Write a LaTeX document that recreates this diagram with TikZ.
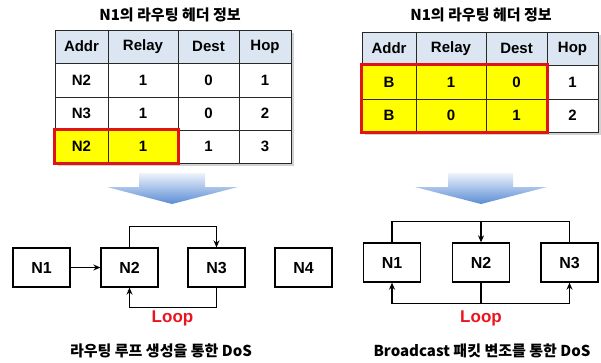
\documentclass[tikz,border=0pt]{standalone}
\usepackage{fontspec}
\setmainfont{Liberation Sans}
\newfontfamily\kr{Noto Sans CJK KR}
\usetikzlibrary{arrows.meta,calc}
\definecolor{hdr}{RGB}{220,230,242}
\definecolor{hl}{RGB}{255,255,0}
\definecolor{redb}{RGB}{225,20,20}
\definecolor{lpred}{RGB}{235,20,30}
\definecolor{gridc}{RGB}{40,40,40}
\tikzset{
  cell/.style={draw=gridc, line width=0.9pt, inner sep=0pt, font=\fontsize{15}{17}\selectfont\bfseries},
  hcell/.style={cell, fill=hdr},
  ycell/.style={cell, fill=hl},
  wcell/.style={cell, fill=white},
  redbox/.style={draw=redb, line width=2.6pt},
  netnode/.style={draw=black, line width=1.3pt, fill=white, minimum width=57pt, minimum height=39pt, inner sep=0pt, font=\fontsize{16}{18}\selectfont\bfseries},
  link/.style={line width=1.3pt},
  arr/.style={link, -{Stealth[length=7pt,width=6pt]}},
  title/.style={font=\kr\fontsize{15}{17}\selectfont\bfseries},
  looplbl/.style={text=lpred, font=\fontsize{17}{19}\selectfont\bfseries},
  bigarrow/.style={top color={rgb,255:red,238;green,243;blue,251}, bottom color={rgb,255:red,90;green,140;blue,212}, draw=none}
}
\newcommand{\tcell}[7]{% style, name, x1, x2, y1, y2, text
  \node[#1, minimum width={(#4-#3)*1pt}, minimum height={(#6-#5)*1pt}] (#2) at ({(#3+#4)/2},{(#5+#6)/2}) {#7};}
\begin{document}
\begin{tikzpicture}[x=1pt,y=-1pt]
\useasboundingbox (0,0) rectangle (601,362);
\fill[white] (0,0) rectangle (601,362);

% ---------- left table ----------
\node[title] (t1) at (170,15) {N1의 라우팅 헤더 정보};
\fill[black!18] (58,33) rectangle (294,166);
\tcell{hcell}{a11}{55}{108}{30}{63}{Addr}
\tcell{hcell}{a12}{108}{178}{30}{63}{Relay}
\tcell{hcell}{a13}{178}{239}{30}{63}{Dest}
\tcell{hcell}{a14}{239}{291}{30}{63}{Hop}
\tcell{wcell}{a21}{55}{108}{63}{97}{N2}
\tcell{wcell}{a22}{108}{178}{63}{97}{1}
\tcell{wcell}{a23}{178}{239}{63}{97}{0}
\tcell{wcell}{a24}{239}{291}{63}{97}{1}
\tcell{wcell}{a31}{55}{108}{97}{130}{N3}
\tcell{wcell}{a32}{108}{178}{97}{130}{1}
\tcell{wcell}{a33}{178}{239}{97}{130}{0}
\tcell{wcell}{a34}{239}{291}{97}{130}{2}
\tcell{ycell}{a41}{55}{108}{130}{163}{N2}
\tcell{ycell}{a42}{108}{178}{130}{163}{1}
\tcell{wcell}{a43}{178}{239}{130}{163}{1}
\tcell{wcell}{a44}{239}{291}{130}{163}{3}
\draw[redbox] (a41.north west) rectangle (a42.south east);

% ---------- right table ----------
\node[title] (t2) at (481,15) {N1의 라우팅 헤더 정보};
\fill[black!18] (365,35) rectangle (601,135);
\tcell{hcell}{b11}{362}{416}{32}{65}{Addr}
\tcell{hcell}{b12}{416}{486}{32}{65}{Relay}
\tcell{hcell}{b13}{486}{547}{32}{65}{Dest}
\tcell{hcell}{b14}{547}{598}{32}{65}{Hop}
\tcell{ycell}{b21}{362}{416}{65}{99}{B}
\tcell{ycell}{b22}{416}{486}{65}{99}{1}
\tcell{ycell}{b23}{486}{547}{65}{99}{0}
\tcell{wcell}{b24}{547}{598}{65}{99}{1}
\tcell{ycell}{b31}{362}{416}{99}{132}{B}
\tcell{ycell}{b32}{416}{486}{99}{132}{0}
\tcell{ycell}{b33}{486}{547}{99}{132}{1}
\tcell{wcell}{b34}{547}{598}{99}{132}{2}
\draw[redbox] (b21.north west) rectangle (b33.south east);

% ---------- big arrows ----------
\shade[bigarrow] (139,173) -- (205,173) -- (205,187) -- (238,187) -- (172,204) -- (107,187) -- (139,187) -- cycle;
\shade[bigarrow] (448,173) -- (513,173) -- (513,187) -- (547,187) -- (481,204) -- (415,187) -- (448,187) -- cycle;

% ---------- left network ----------
\node[netnode] (L1) at (41.5,267.5) {N1};
\node[netnode] (L2) at (129.5,267.5) {N2};
\node[netnode] (L3) at (216.5,267.5) {N3};
\node[netnode] (L4) at (303.5,267.5) {N4};
\draw[arr] (L1.east) -- (L2.west);
\draw[arr] (L2.north) -- ++(0,-21) -| (L3.north);
\draw[arr] (L3.south) -- ++(0,20) -| (L2.south);
\node[looplbl] (LL) at (172.5,318) {Loop};
\node[title] (c1) at (161,351) {라우팅 루프 생성을 통한 DoS};

% ---------- right network ----------
\node[netnode] (R1) at (392,262.5) {N1};
\node[netnode] (R2) at (481,262.5) {N2};
\node[netnode] (R3) at (569.5,262.5) {N3};
\coordinate (rt) at ($(R2.north)+(0,-21)$);
\draw[link] (R1.north) |- (R3.north |- rt) -- (R3.north);
\draw[arr] (rt) -- (R2.north);
\draw[link] (R2.south) -- ++(0,21) coordinate (rb);
\draw[arr] (rb) -| (R1.south);
\draw[arr] (rb) -| (R3.south);
\node[looplbl] (RL) at (481,318) {Loop};
\node[title] (c2) at (482,351) {Broadcast 패킷 변조를 통한 DoS};
\end{tikzpicture}
\end{document}
